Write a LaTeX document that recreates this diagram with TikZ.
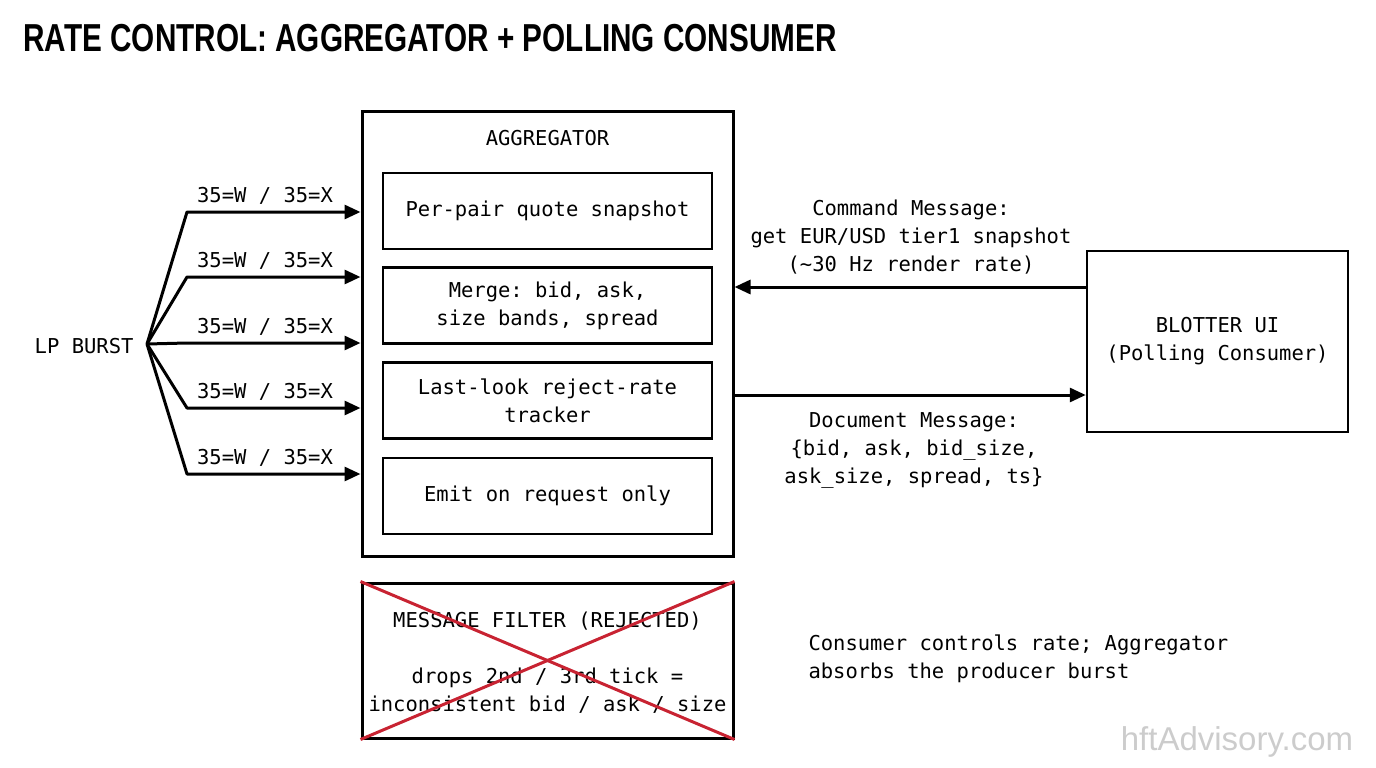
\documentclass[tikz,border=0pt]{standalone}
\usepackage{fontspec}
\setmonofont{DejaVu Sans Mono}
\newfontfamily\titlefont[FakeStretch=0.762]{Liberation Sans}
\newfontfamily\markfont{Liberation Sans}
\usetikzlibrary{arrows.meta}

\definecolor{reject}{RGB}{200,35,50}

\tikzset{
    mono/.style={font=\ttfamily\fontsize{20.5}{28}\selectfont, align=center},
    outerbox/.style={draw, line width=3pt, minimum width=371pt, inner sep=0pt},
    stagebox/.style={draw, line width=2.5pt, minimum width=329pt, minimum height=76pt, mono},
    flow/.style={-{Triangle[length=16pt,width=14pt]}, line width=3pt},
}

\begin{document}
\begin{tikzpicture}[x=1pt,y=-1pt]

    \useasboundingbox (0,0) rectangle (1376,768);

    \node[anchor=west,font=\titlefont\bfseries\fontsize{39}{39}\selectfont] (title) at (20,38) {RATE CONTROL: AGGREGATOR + POLLING CONSUMER};

    %aggregator
    \node[outerbox, minimum height=445pt] (agg) at (547.5,333.5) {};
    \node[mono] (aggname) at (547.5,138) {AGGREGATOR};
    \node[stagebox] (snap) at (547.5,211) {Per-pair quote snapshot};
    \node[stagebox] (merge) at (547.5,305.5) {Merge: bid, ask,\\size bands, spread};
    \node[stagebox] (track) at (547.5,400.5) {Last-look reject-rate\\tracker};
    \node[stagebox] (emit) at (547.5,496) {Emit on request only};

    %producer burst
    \node[mono, anchor=east] (lp) at (137,346) {LP BURST};
    \coordinate (fan) at (147,344);
    \foreach \i/\y in {1/212,2/277,3/343,4/408,5/474} {
        \coordinate (in\i) at (agg.west |- 0,\y);
        \draw[flow, line join=round] (fan) -- (187,\y) -- (in\i);
        \node[mono] (tag\i) at (265,\y-16) {35=W / 35=X};
    }

    %consumer
    \node[draw, line width=2.5pt, minimum width=261pt, minimum height=181pt, mono] (blotter) at (1217.5,341.5) {BLOTTER UI\\(Polling Consumer)};
    \draw[flow] ([yshift=54.5pt]blotter.west) -- ([yshift=54.5pt]blotter.west -| agg.east);
    \draw[flow] ([yshift=-53.5pt]blotter.west -| agg.east) -- ([yshift=-53.5pt]blotter.west);
    \node[mono] (cmd) at (911,237) {Command Message:\\get EUR/USD tier1 snapshot\\(\textasciitilde30 Hz render rate)};
    \node[mono] (doc) at (914,450) {Document Message:\\\{bid, ask, bid\_size,\\ask\_size, spread, ts\}};

    %rejected alternative
    \node[outerbox, minimum height=155pt] (filter) at (547.5,660.5) {};
    \node[mono] (filtername) at (547.5,621) {MESSAGE FILTER (REJECTED)};
    \node[mono] (filtertext) at (547.5,691) {drops 2nd / 3rd tick =\\inconsistent bid / ask / size};
    \draw[line width=3pt, reject] (filter.north west) -- (filter.south east);
    \draw[line width=3pt, reject] (filter.south west) -- (filter.north east);

    \node[mono, align=left, anchor=west] (note) at (805,659) {Consumer controls rate; Aggregator\\absorbs the producer burst};

    \node[font=\markfont\fontsize{33}{33}\selectfont, text=gray!40] (mark) at (1237,742) {hftAdvisory.com};

\end{tikzpicture}
\end{document}
